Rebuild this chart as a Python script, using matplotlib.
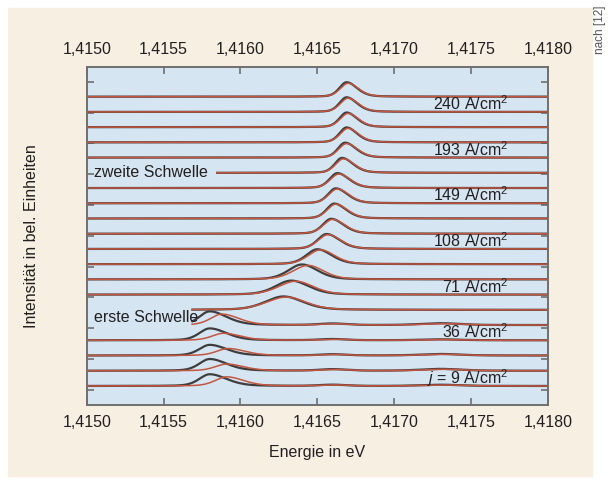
import numpy as np
import matplotlib
matplotlib.use("Agg")
import matplotlib.pyplot as plt
from matplotlib.patches import Rectangle

plt.rcParams["font.family"] = ["Liberation Sans", "DejaVu Sans"]
plt.rcParams["mathtext.fontset"] = "custom"
plt.rcParams["mathtext.rm"] = "Liberation Sans"
plt.rcParams["mathtext.it"] = "Liberation Sans:italic"

# --- data (trace 0 = bottom, 19 = top) ---
black_center = [1.41580, 1.41580, 1.41580, 1.41580, 1.41580,
                1.41628, 1.41633, 1.41640, 1.41650, 1.41656,
                1.41659, 1.41661, 1.41662, 1.41663, 1.41666,
                1.41668, 1.41669, 1.41669, 1.41669, 1.41669]
black_height = [0.77, 0.77, 0.70, 0.78, 0.90,
                0.88, 0.92, 0.98, 0.98, 0.98,
                0.98, 0.98, 0.98, 0.98, 0.98,
                0.98, 0.98, 0.96, 0.96, 0.95]
red_center = [1.41591, 1.41591, 1.41592, 1.41589, 1.41588,
              1.41630, 1.41636, 1.41644, 1.41652, 1.41657,
              1.41660, 1.41662, 1.41663, 1.41664, 1.41667,
              1.41669, 1.41670, 1.41670, 1.41670, 1.41670]
red_height = [0.60, 0.44, 0.46, 0.46, 0.72,
              0.84, 0.88, 0.92, 0.94, 0.94,
              0.94, 0.94, 0.94, 0.92, 0.92,
              0.92, 0.92, 0.90, 0.90, 0.88]
width_left = [8e-5, 8e-5, 8e-5, 8e-5, 8e-5,
              1.4e-4, 1.2e-4, 1.05e-4, 8.5e-5, 7e-5,
              6.5e-5, 6e-5, 6e-5, 6e-5, 5.5e-5,
              5.5e-5, 5.5e-5, 5.5e-5, 5.5e-5, 5.5e-5]
width_right = [1.3e-4, 1.3e-4, 1.3e-4, 1.3e-4, 1.3e-4,
               1.5e-4, 1.35e-4, 1.2e-4, 1.1e-4, 1e-4,
               9.5e-5, 9e-5, 9e-5, 9e-5, 8.5e-5,
               8.5e-5, 8e-5, 8e-5, 8e-5, 8e-5]
# weak side bumps on the low-current traces
bump_center = [1.41660, 1.41730]
bump_height = [[0.08, 0.10, 0.08, 0.08, 0.10], [0.08, 0.12, 0.10, 0.06, 0.12]]
bump_width = [1e-4, 1.5e-4]
# traces that start partway (behind the annotations)
trace_start = {4: 1.41568, 5: 1.41568, 14: 1.41584}

label_rows = [0, 3, 6, 9, 12, 15, 18]
label_text = [r"$\mathit{j}$ = 9 A/cm$^{\mathregular{2}}$",
              r"36 A/cm$^{\mathregular{2}}$", r"71 A/cm$^{\mathregular{2}}$",
              r"108 A/cm$^{\mathregular{2}}$", r"149 A/cm$^{\mathregular{2}}$",
              r"193 A/cm$^{\mathregular{2}}$", r"240 A/cm$^{\mathregular{2}}$"]
xticks = [1.4150, 1.4155, 1.4160, 1.4165, 1.4170, 1.4175, 1.4180]

BLACK = "#3e3e3e"
RED = "#c4553f"
TXT = "#231f20"
SPINE = "#6f6f6f"
FS = 11.5


def peak(x, c, h, wl, wr):
    w = np.where(x < c, wl, wr)
    u = (x - c) / w
    return h * (0.7 * np.exp(-u ** 2 * np.log(2)) + 0.3 / (1 + u ** 2))


fig = plt.figure(figsize=(6.10, 4.84), dpi=100)
fig.patches.append(Rectangle((8 / 610, 8 / 484), 584 / 610, 468 / 484,
                             transform=fig.transFigure, color="#f8efe3",
                             zorder=-10))
ax = fig.add_axes([86.7 / 610, 79 / 484, 461.3 / 610, 338 / 484])
ax.set_facecolor("#d5e5f2")

x = np.linspace(1.4150, 1.4180, 900)
for i in range(20):
    yb = i + peak(x, black_center[i], black_height[i], width_left[i], width_right[i])
    yr = i + peak(x, red_center[i], red_height[i], width_left[i] * 1.1, width_right[i])
    if i < 5:
        for k in range(2):
            yb = yb + peak(x, bump_center[k], bump_height[k][i], bump_width[k], bump_width[k])
            yr = yr + peak(x, bump_center[k] + 2e-5, bump_height[k][i] * 0.8,
                           bump_width[k], bump_width[k])
    m = x >= trace_start.get(i, 1.4150)
    ax.plot(x[m], yb[m], color=BLACK, lw=1.6, solid_capstyle="butt")
    ax.plot(x[m], yr[m], color=RED, lw=1.1, solid_capstyle="butt")

for row, txt in zip(label_rows, label_text):
    ax.text(1.41774, row + 0.12, txt, ha="right", va="baseline",
            fontsize=FS, color=TXT)

ax.text(1.41505, 14, "zweite Schwelle", ha="left", va="center", fontsize=FS, color=TXT)
ax.text(1.41505, 4.5, "erste Schwelle", ha="left", va="center", fontsize=FS, color=TXT)

ax.set_xlim(1.4150, 1.4180)
ax.set_ylim(-1.25, 20.95)
ax.set_xticks(xticks)
ax.set_xticklabels([f"{t:.4f}".replace(".", ",") for t in xticks])
ax.set_yticks(np.linspace(-0.26, 19.98, 11))
ax.set_yticklabels([])
ax.tick_params(axis="x", direction="in", top=True, labeltop=True, length=5,
               width=1.2, color=SPINE, labelsize=FS, labelcolor=TXT, pad=7)
ax.tick_params(axis="y", direction="in", right=True, length=5, width=1.2,
               color=SPINE)
for s in ax.spines.values():
    s.set_color(SPINE)
    s.set_linewidth(1.4)

fig.text(317 / 610, 1 - 452 / 484, "Energie in eV", ha="center", va="center",
         fontsize=FS, color=TXT)
fig.text(32 / 610, 1 - 236 / 484, "Intensität in bel. Einheiten", ha="center",
         va="center", rotation=90, fontsize=FS, color=TXT)
fig.text(600 / 610, 1 - 30 / 484, "nach [12]", ha="center", va="center",
         rotation=90, fontsize=8.5, color="#555555")

fig.savefig("out.png", dpi=100)
